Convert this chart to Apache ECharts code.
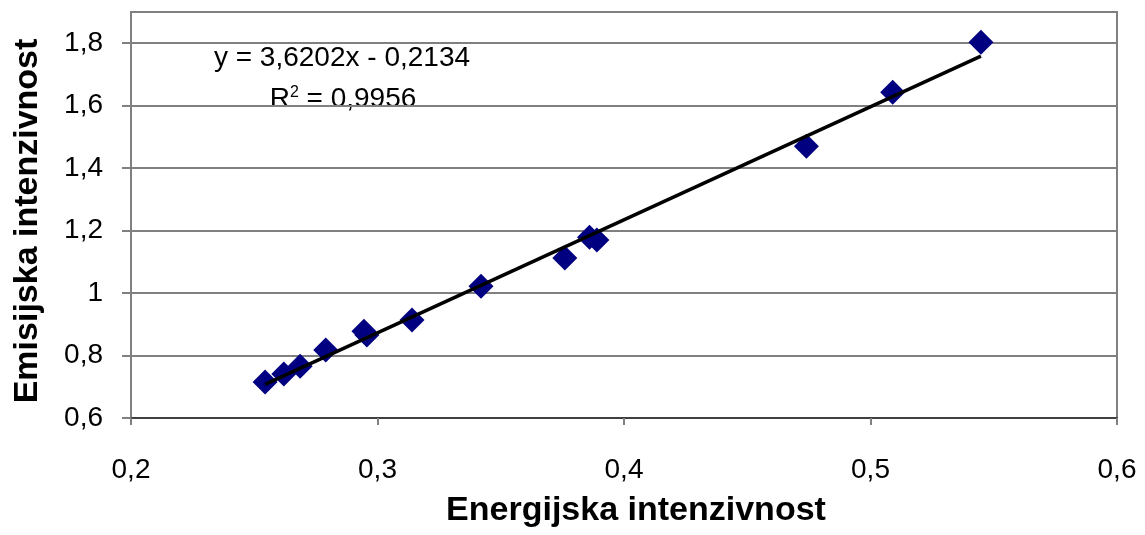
<!DOCTYPE html>
<html>
<head>
<meta charset="utf-8">
<script src="https://cdn.jsdelivr.net/npm/echarts@6/dist/echarts.min.js"></script>
<style>html,body{margin:0;padding:0;background:#fff}#c{width:1145px;height:535px}</style>
</head>
<body>
<div id="c"></div>
<script>
const energyIntensity = [0.2544, 0.262, 0.2686, 0.279, 0.2945, 0.2957, 0.314, 0.342, 0.376, 0.386, 0.389, 0.474, 0.509, 0.5448];
const emissionIntensity = [0.715, 0.741, 0.766, 0.818, 0.878, 0.866, 0.914, 1.022, 1.112, 1.179, 1.170, 1.470, 1.643, 1.803];
const trendSlope = 3.6202;
const trendIntercept = -0.2134;
const equationText = 'y = 3,6202x - 0,2134';
const rSquared = '0,9956';
const xTitle = 'Energijska intenzivnost';
const yTitle = 'Emisijska intenzivnost';
const xTicks = [0.2, 0.3, 0.4, 0.5, 0.6];
const yTicks = [0.6, 0.8, 1.0, 1.2, 1.4, 1.6, 1.8];

const fmt = v => {
  const r = Math.round(v * 10) / 10;
  return (Number.isInteger(r) ? String(r) : r.toFixed(1)).replace('.', ',');
};

const points = energyIntensity.map((x, i) => [x, emissionIntensity[i]]);
const xmin = Math.min(...energyIntensity), xmax = Math.max(...energyIntensity);
const trend = [[xmin, trendSlope * xmin + trendIntercept], [xmax, trendSlope * xmax + trendIntercept]];

const chart = echarts.init(document.getElementById('c'), null, {renderer: 'canvas'});
const font = '"Liberation Sans", Arial, sans-serif';
chart.setOption({
  animation: false,
  grid: {left: 131, right: 28, top: 12, bottom: 117, show: true, borderColor: '#808080', borderWidth: 2, backgroundColor: '#fff', containLabel: false, outerBoundsMode: 'none'},
  xAxis: {
    type: 'value', min: xTicks[0], max: xTicks[xTicks.length - 1], interval: 0.1,
    axisLine: {show: true, lineStyle: {color: '#404040', width: 2}},
    axisTick: {show: true, length: 7, lineStyle: {color: '#808080', width: 2}},
    axisLabel: {formatter: fmt, fontFamily: font, fontSize: 28, color: '#000', margin: 38},
    splitLine: {show: false}
  },
  yAxis: {
    type: 'value', min: yTicks[0], max: 1.9, interval: 0.2,
    axisLine: {show: true, lineStyle: {color: '#808080', width: 2}},
    axisTick: {show: true, length: 9, lineStyle: {color: '#808080', width: 2}},
    axisLabel: {formatter: v => (yTicks.some(t => Math.abs(t - v) < 1e-9) ? fmt(v) : ''), fontFamily: font, fontSize: 28, color: '#000', margin: 28, showMaxLabel: false},
    splitLine: {show: true, lineStyle: {color: '#808080', width: 2}}
  },
  graphic: [
    {type: 'text', x: 342, y: 58, style: {text: equationText, font: '28px ' + font, fill: '#000', textAlign: 'center', textVerticalAlign: 'middle'}},
    {type: 'text', x: 343, y: 99, style: {
      text: '{a|R}{s|2}{a| = ' + rSquared + '}', textAlign: 'center', textVerticalAlign: 'middle',
      rich: {a: {fontSize: 28, fontFamily: font, color: '#000', verticalAlign: 'bottom'}, s: {fontSize: 16, fontFamily: font, color: '#000', verticalAlign: 'top'}}
    }},
    {type: 'text', x: 636, y: 511, style: {text: xTitle, font: 'bold 34px ' + font, fill: '#000', textAlign: 'center', textVerticalAlign: 'middle'}},
    {type: 'text', x: 28, y: 221, rotation: Math.PI / 2, style: {text: yTitle, font: 'bold 34px ' + font, fill: '#000', textAlign: 'center', textVerticalAlign: 'middle'}}
  ],
  series: [
    {type: 'scatter', data: points, symbol: 'diamond', symbolSize: [25, 25], itemStyle: {color: '#000080', opacity: 1}, emphasis: {disabled: true}, z: 2},
    {type: 'line', data: trend, symbol: 'none', lineStyle: {color: '#000', width: 3.5}, z: 3}
  ]
});
</script>
</body>
</html>
